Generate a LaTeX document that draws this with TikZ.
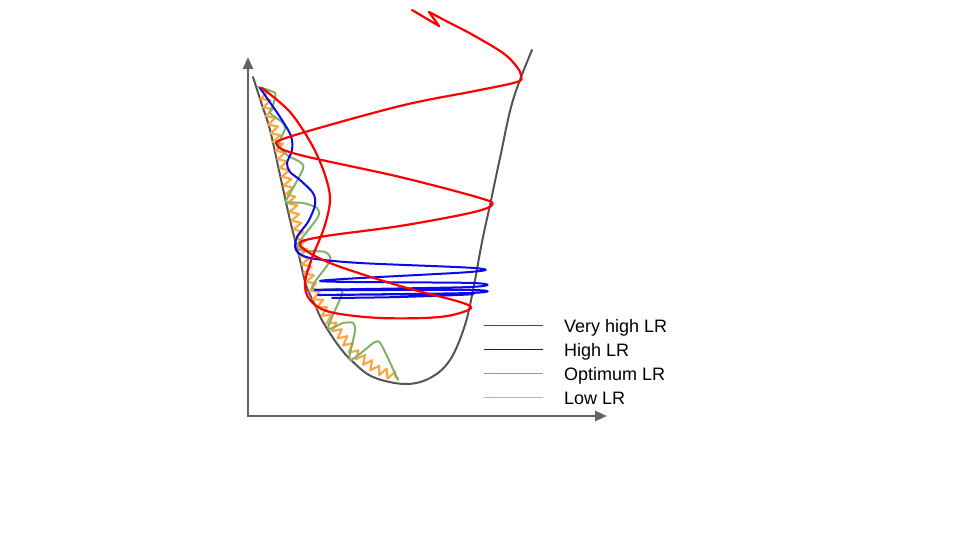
\documentclass[tikz,border=0pt]{standalone}
\usepackage{fontspec}
\setmainfont{Liberation Sans}
\usetikzlibrary{decorations.pathmorphing,arrows.meta}
\definecolor{cred}{RGB}{255,0,0}
\definecolor{cblue}{RGB}{10,10,235}
\definecolor{cgreen}{RGB}{130,178,100}
\definecolor{corange}{RGB}{248,168,68}
\definecolor{cbowl}{RGB}{85,85,85}
\definecolor{caxis}{RGB}{100,100,100}
\tikzset{
  axisline/.style={draw=caxis, line width=2.5pt, -{Triangle[length=12pt,width=10pt]}},
  bowl/.style={draw=cbowl, line width=2pt, line cap=round},
  vhigh/.style={draw=cred, line width=2.2pt, line join=round, line cap=round},
  highlr/.style={draw=cblue, line width=2pt, line join=round, line cap=round},
  optlr/.style={draw=cgreen, line width=2pt, line join=round, line cap=round},
  lowlr/.style={draw=corange, line width=2.2pt, line join=round, line cap=round},
  legtext/.style={anchor=base west, inner sep=0pt, font=\fontsize{18}{20}\selectfont, text=black},
}
\begin{document}
\begin{tikzpicture}[x=1pt,y=-1pt]
\useasboundingbox (0,0) rectangle (960,540);

% axes
\coordinate (o) at (248,416);
\coordinate (ytip) at (248,57);
\coordinate (xtip) at (607,416);
\draw[axisline] (248,417) -- (ytip);
\draw[axisline] (247,416) -- (xtip);

% bowl
\draw[bowl] plot[smooth, tension=0.6] coordinates {(253,77) (262,105) (270,130) (280,175) (290,220) (300,260) (306,285) (315,305) (323,322) (338,345) (352,361) (373,377) (405,384) (430,378) (450,360) (465,325) (474,285) (482,242) (490,205) (500,158) (513,100) (532,50)};

% low LR (orange zigzag)
\draw[lowlr, decorate, decoration={zigzag, segment length=9pt, amplitude=4.5pt}] (263,91) -- (272,122) -- (280,150) -- (287,180) -- (296,220) -- (304,255) -- (311,283) -- (320,304) -- (332,324) -- (354,352) -- (376,369) -- (398,378);

% optimum LR (green)
\draw[optlr] plot[smooth, tension=0.45] coordinates {(258,87) (275,93) (273,105) (270,113) (282,122) (285,129) (279,144) (287,155) (300,162) (303,169) (288,197) (286,202) (303,203) (317,208) (318,217) (299,242) (298,248) (304,251) (325,252) (330,261) (312,288) (338,289) (342,294) (328,328) (343,323) (353,323) (355,331) (350,360) (375,342) (382,346) (398,380)};

% high LR (blue)
\draw[highlr] plot[smooth, tension=0.5] coordinates {(260,88) (280,117) (291,136) (292,150) (287,163) (290,172) (300,180) (313,193) (315,205) (308,222) (297,237) (296,250) (310,258) (360,263) (474,268) (470,272) (320,281) (473,283) (470,287) (315,290) (473,290) (470,293) (318,295) (472,294) (400,297) (332,298)};

% very high LR (red)
\draw[vhigh] plot[smooth, tension=0.55] coordinates {(262,88) (290,112) (312,145) (325,175) (330,200) (324,228) (312,258) (305,283) (310,300) (330,312) (380,318) (440,317) (470,309) (460,302) (400,286) (330,263) (300,245) (320,237) (400,226) (470,213) (492,205) (480,198) (400,177) (300,155) (277,145) (292,136) (400,106) (475,91) (517,82) (521,76) (517,67) (503,53) (473,35) (450,23) (429,12)};
\draw[vhigh] (429,12) -- (439,26) -- (412,10);

% legend
\draw[draw=cred, line width=1pt] (484,325) -- (543,325);
\draw[draw=cblue, line width=1pt] (484,349.5) -- (543,349.5);
\draw[draw=cgreen, line width=1pt] (484,373) -- (543,373);
\draw[draw=corange, line width=1pt] (484,397.5) -- (543,397.5);
\node[legtext] (l1) at (564,332) {Very high LR};
\node[legtext] (l2) at (564,356.5) {High LR};
\node[legtext] (l3) at (564,380) {Optimum LR};
\node[legtext] (l4) at (564,404.5) {Low LR};
\end{tikzpicture}
\end{document}
